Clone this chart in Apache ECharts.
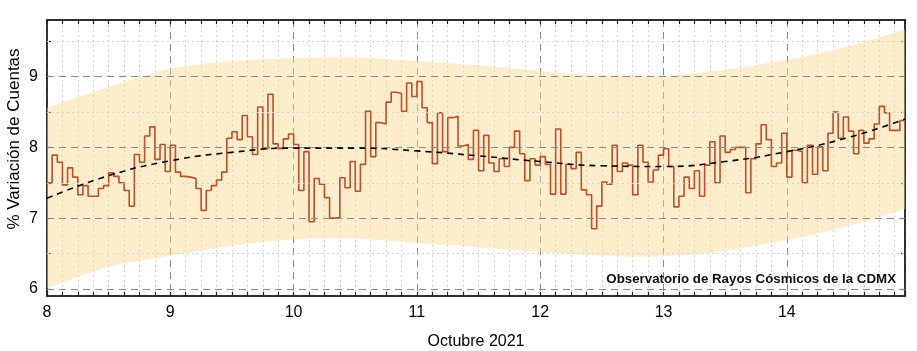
<!DOCTYPE html>
<html>
<head>
<meta charset="utf-8">
<title>Variación de Cuentas - Octubre 2021</title>
<style type="text/css">
	html,body{margin:0;padding:0;background:#fff}
	#main{width:917px;height:351px;}
</style>
</head>
<body>
	<div id="main"></div>
<script src="https://cdn.jsdelivr.net/npm/echarts@6/dist/echarts.min.js"></script>
<script type="text/javascript">

// datos horarios, a partir del 8 de octubre 00:00
var diaInicio = 8;
var variacion = [
	7.50, 7.89, 7.79, 7.47, 7.71, 7.58, 7.33, 7.46, 7.31, 7.31, 7.42, 7.46, 7.64, 7.59, 7.50, 7.39, 7.17, 7.90, 7.79, 8.16, 8.29, 7.83, 8.04, 7.66,
	8.03, 7.65, 7.59, 7.58, 7.56, 7.42, 7.11, 7.39, 7.46, 7.54, 7.65, 8.13, 8.22, 8.11, 8.45, 8.15, 7.90, 8.57, 7.98, 8.75, 8.05, 7.98, 8.12, 8.19,
	8.04, 7.39, 7.94, 6.95, 7.56, 7.48, 7.29, 7.00, 7.01, 7.57, 7.43, 7.80, 7.38, 7.76, 8.51, 7.87, 8.35, 8.33, 8.64, 8.78, 8.76, 8.51, 8.91, 8.72,
	8.93, 8.56, 8.35, 7.77, 8.49, 7.94, 8.42, 8.44, 8.02, 8.04, 7.83, 8.24, 7.67, 8.17, 7.78, 7.66, 7.84, 7.73, 8.00, 8.23, 7.91, 7.53, 7.84, 7.75,
	7.87, 7.76, 7.34, 8.26, 7.34, 7.76, 7.70, 7.93, 7.40, 7.33, 6.85, 7.17, 7.51, 7.48, 8.03, 7.66, 7.78, 7.75, 7.33, 8.03, 7.79, 7.51, 7.68, 7.89,
	7.98, 7.73, 7.16, 7.31, 7.58, 7.42, 7.67, 7.31, 7.75, 8.08, 7.50, 8.16, 7.93, 7.97, 8.00, 8.00, 7.36, 7.84, 8.05, 8.32, 8.11, 7.73, 7.78, 8.20,
	7.58, 7.96, 7.94, 7.50, 8.03, 7.62, 8.01, 7.67, 8.20, 8.50, 8.13, 8.43, 8.23, 7.91, 8.24, 8.06, 8.12, 8.33, 8.58, 8.49, 8.24, 8.24, 8.38
];

// tendencia y banda (cada medio dia)
var diasCurva = [8, 8.5, 9, 9.5, 10, 10.5, 11, 11.5, 12, 12.5, 13, 13.5, 14, 14.5, 14.958];
var tendencia = [7.28, 7.60, 7.81, 7.93, 7.99, 7.99, 7.95, 7.88, 7.80, 7.74, 7.73, 7.80, 7.94, 8.14, 8.40];
var bandaSup  = [8.56, 8.85, 9.11, 9.22, 9.26, 9.27, 9.22, 9.16, 9.08, 9.02, 9.01, 9.10, 9.24, 9.43, 9.67];
var bandaInf  = [6.01, 6.31, 6.47, 6.61, 6.70, 6.71, 6.65, 6.59, 6.52, 6.47, 6.46, 6.54, 6.69, 6.89, 7.13];

var yTicks = [6, 7, 8, 9];
var yMedios = [6.5, 7.5, 8.5, 9.5];
var fuente = 'Liberation Sans';

// curva suave (catmull-rom -> bezier) sobre puntos en pixeles
function trazo(pts, inicio){
	var d = inicio ? 'M' + pts[0][0] + ' ' + pts[0][1] : 'L' + pts[0][0] + ' ' + pts[0][1];
	for (var i = 0; i < pts.length - 1; i++) {
		var p0 = pts[Math.max(i - 1, 0)], p1 = pts[i], p2 = pts[i + 1], p3 = pts[Math.min(i + 2, pts.length - 1)];
		var c1x = p1[0] + (p2[0] - p0[0]) / 6, c1y = p1[1] + (p2[1] - p0[1]) / 6;
		var c2x = p2[0] - (p3[0] - p1[0]) / 6, c2y = p2[1] - (p3[1] - p1[1]) / 6;
		d += ' C' + c1x + ' ' + c1y + ' ' + c2x + ' ' + c2y + ' ' + p2[0] + ' ' + p2[1];
	}
	return d;
}

var chart = {
	init:function(){
		var report = echarts.init(document.getElementById('main'), null, {renderer:'canvas'});
		report.setOption(this.option());
	},

	option:function(){
		var xMax = diaInicio + variacion.length / 24;

		// escalones: un punto por hora + cierre al final
		var pasos = variacion.map(function(v, i){ return [diaInicio + i / 24, v]; });
		pasos.push([xMax, variacion[variacion.length - 1]]);

		var tend = diasCurva.map(function(d, i){ return [d, tendencia[i]]; });

		var ejeX = function(pos, show){
			return {
				type:'value', position:pos, min:diaInicio, max:xMax, interval:1,
				axisLine:{show:true, onZero:false, lineStyle:{color:'#222', width:1.5}},
				axisTick:{show:true, inside:true, length:4, lineStyle:{color:'#222', width:1.2}},
				minorTick:{show:true, splitNumber:8, length:4, lineStyle:{color:'#222', width:1.2}},
				axisLabel:{show:show, color:'#000', fontSize:16, fontFamily:fuente, margin:9,
					showMaxLabel:false,
					formatter:function(v){ return Number.isInteger(v) ? v : ''; }},
				splitLine:{show:show, lineStyle:{color:'#8a8a8a', type:[7,5], width:1}},
				minorSplitLine:{show:show, lineStyle:{color:'#d2d2d2', type:[2,3], width:1}},
				name: show ? 'Octubre 2021' : '', nameLocation:'middle', nameGap:38,
				nameTextStyle:{color:'#000', fontSize:16, fontFamily:fuente}
			};
		};
		var ejeY = function(pos, show){
			return {
				type:'value', position:pos, min:5.9, max:9.8,
				axisLine:{show:true, onZero:false, lineStyle:{color:'#222', width:1.5}},
				axisTick:{show:true, inside:true, length:4, customValues:yTicks.concat(yMedios), lineStyle:{color:'#222', width:1.2}},
				axisLabel:{show:show, color:'#000', fontSize:16, fontFamily:fuente, margin:9, customValues:yTicks},
				splitLine:{show:false}
			};
		};

		// lineas horizontales de la rejilla
		var rejilla = [];
		yMedios.forEach(function(v){
			rejilla.push({yAxis:v, lineStyle:{color:'#d2d2d2', type:[2,3], width:1}});
		});
		yTicks.forEach(function(v){
			rejilla.push({yAxis:v, lineStyle:{color:'#8a8a8a', type:[7,5], width:1}});
		});

		var option = {
			animation:false,
			backgroundColor:'#fff',
			grid:{left:47, right:12, top:20, bottom:55, containLabel:false, outerBoundsMode:'none',
				show:true, borderColor:'#222', borderWidth:1.5, backgroundColor:'#fff'},
			xAxis:[ejeX('bottom', true), ejeX('top', false)],
			yAxis:[ejeY('left', true), ejeY('right', false)],
			graphic:[
				{
					type:'text', right:21, top:273, z:10,
					style:{text:'Observatorio de Rayos Cósmicos de la CDMX', fill:'#111',
						font:'bold 13.3px "Liberation Sans"', textAlign:'right'}
				},
				{
					// titulo del eje y
					type:'text', x:14, y:139, rotation:Math.PI / 2,
					style:{text:'% Variación de Cuentas', fill:'#000', font:'17px "Liberation Sans"',
						textAlign:'center', textVerticalAlign:'middle'}
				}
			],
			series:[
				{
					type:'line', data:[], silent:true,
					markLine:{symbol:'none', silent:true, label:{show:false}, data:rejilla}
				},
				{
					// banda de confianza
					name:'banda', type:'custom', silent:true,
					data:[[diaInicio, bandaInf[0]]],
					renderItem:function(params, api){
						var sup = diasCurva.map(function(d, i){ return api.coord([d, bandaSup[i]]); });
						var inf = diasCurva.map(function(d, i){ return api.coord([d, bandaInf[i]]); }).reverse();
						var d = trazo(sup, true) + ' ' + trazo(inf, false) + ' Z';
						return {type:'path', shape:{pathData:d}, style:{fill:'rgba(250,215,140,0.45)'}};
					}
				},
				{
					name:'variacion', type:'line', data:pasos, step:'end', symbol:'none',
					lineStyle:{color:'#c24d27', width:1.6}
				},
				{
					name:'tendencia', type:'line', data:tend, smooth:0.5, symbol:'none',
					lineStyle:{color:'#000', width:1.6, type:[6,5]}, z:5
				}
			]
		};
		return option;
	}
};

chart.init();
</script>
</body>
</html>
